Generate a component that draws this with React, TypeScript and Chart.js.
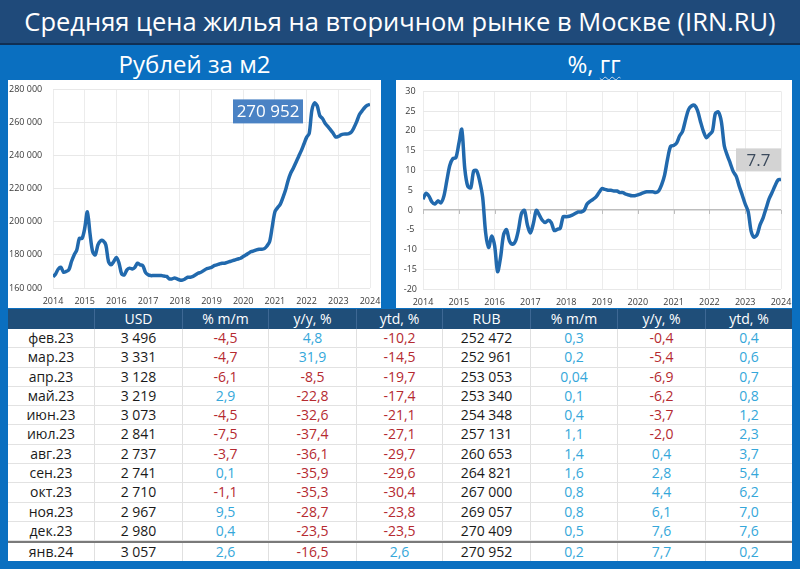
import React, { useEffect, useRef } from "react";
import { Chart, registerables } from "chart.js";

Chart.register(...registerables);

// ---------- Chart data (monthly, Jan..Dec) ----------
const years = [2014, 2015, 2016, 2017, 2018, 2019, 2020, 2021, 2022, 2023, 2024];

const price2014 = [166800, 168500, 171500, 172500, 169500, 170000, 171000, 176000, 180000, 183000, 190000, 190000];
const price2015 = [196000, 206000, 193000, 182000, 180000, 186000, 188500, 188500, 186000, 176000, 174000, 176000];
const price2016 = [178500, 175000, 168500, 168000, 171000, 172000, 171500, 172500, 175000, 174000, 173500, 169500];
const price2017 = [168000, 167500, 167500, 167500, 167500, 167500, 167200, 167000, 165500, 165500, 166000, 165500];
const price2018 = [164800, 164800, 165500, 166500, 166500, 167000, 168000, 169000, 169500, 170500, 171500, 172000];
const price2019 = [172500, 173500, 174000, 174500, 175000, 175000, 175500, 176000, 176500, 177000, 177500, 178000];
const price2020 = [179000, 179900, 181000, 182000, 182400, 183000, 183400, 183400, 183800, 185400, 188000, 197000];
const price2021 = [206000, 208500, 210500, 214500, 219000, 225000, 229500, 232500, 236000, 239500, 243000, 247000];
const price2022 = [251000, 253500, 267400, 271800, 270100, 264100, 262400, 259600, 257600, 255700, 253600, 251300];
const price2023 = [251600, 252472, 252961, 253053, 253340, 254348, 257131, 260653, 264821, 267000, 269057, 270409];
const price2024 = [270952];

const yoy2014 = [2.7, 4.2, 3.5, 2.0, 1.5, 2.3, 1.8, 3.5, 7.5, 11.3, 13.0, 13.2];
const yoy2015 = [16.7, 20.4, 10.5, 6.0, 5.6, 9.9, 9.9, 7.3, 3.2, -5.8, -9.5, -6.6];
const yoy2016 = [-9.0, -15.6, -12.0, -6.3, -5.0, -7.9, -8.7, -7.9, -5.0, -0.9, -0.1, -3.8];
const yoy2017 = [-5.8, -3.4, -0.1, -1.3, -2.6, -3.2, -2.6, -3.2, -5.2, -4.9, -4.6, -1.7];
const yoy2018 = [-1.7, -1.6, -1.3, -0.9, -0.5, -0.5, -0.1, 1.5, 2.2, 2.7, 3.3, 4.4];
const yoy2019 = [5.4, 5.2, 5.0, 5.0, 4.8, 4.8, 4.4, 4.4, 4.0, 3.8, 3.6, 3.6];
const yoy2020 = [3.8, 4.1, 4.4, 4.6, 4.6, 4.6, 4.4, 4.8, 6.4, 8.9, 13.0, 16.1];
const yoy2021 = [16.3, 16.9, 18.7, 19.9, 22.8, 25.4, 26.3, 26.5, 25.2, 22.4, 19.9, 18.3];
const yoy2022 = [19.1, 19.9, 24.4, 24.8, 22.4, 16.2, 13.8, 11.8, 9.7, 8.5, 6.0, 3.8];
const yoy2023 = [1.5, -0.4, -5.4, -6.9, -6.2, -3.7, -2.0, 0.4, 2.8, 4.4, 6.1, 7.6];
const yoy2024 = [7.7];

const priceByYear = [price2014, price2015, price2016, price2017, price2018, price2019, price2020, price2021, price2022, price2023, price2024];
const yoyByYear = [yoy2014, yoy2015, yoy2016, yoy2017, yoy2018, yoy2019, yoy2020, yoy2021, yoy2022, yoy2023, yoy2024];

// ---------- Table data ----------
const headers = ["", "USD", "% m/m", "y/y, %", "ytd, %", "RUB", "% m/m", "y/y, %", "ytd, %"];
const months = ["фев.23", "мар.23", "апр.23", "май.23", "июн.23", "июл.23", "авг.23", "сен.23", "окт.23", "ноя.23", "дек.23", "янв.24"];
const usd = ["3 496", "3 331", "3 128", "3 219", "3 073", "2 841", "2 737", "2 741", "2 710", "2 967", "2 980", "3 057"];
const usdMm = ["-4,5", "-4,7", "-6,1", "2,9", "-4,5", "-7,5", "-3,7", "0,1", "-1,1", "9,5", "0,4", "2,6"];
const usdYy = ["4,8", "31,9", "-8,5", "-22,8", "-32,6", "-37,4", "-36,1", "-35,9", "-35,3", "-28,7", "-23,5", "-16,5"];
const usdYtd = ["-10,2", "-14,5", "-19,7", "-17,4", "-21,1", "-27,1", "-29,7", "-29,6", "-30,4", "-23,8", "-23,5", "2,6"];
const rub = ["252 472", "252 961", "253 053", "253 340", "254 348", "257 131", "260 653", "264 821", "267 000", "269 057", "270 409", "270 952"];
const rubMm = ["0,3", "0,2", "0,04", "0,1", "0,4", "1,1", "1,4", "1,6", "0,8", "0,8", "0,5", "0,2"];
const rubYy = ["-0,4", "-5,4", "-6,9", "-6,2", "-3,7", "-2,0", "0,4", "2,8", "4,4", "6,1", "7,6", "7,7"];
const rubYtd = ["0,4", "0,6", "0,7", "0,8", "1,2", "2,3", "3,7", "5,4", "6,2", "7,0", "7,6", "0,2"];

const colWidths = [87, 88, 86, 88, 86, 88, 87, 88, 86];

const FONT = '"Open Sans", "Noto Sans", sans-serif';
const LINE = "#2169ad";
const RED = "#b52a30";
const CYAN = "#35a7da";

function toPoints(byYear: number[][]) {
  const pts: { x: number; y: number }[] = [];
  byYear.forEach((arr, yi) => arr.forEach((v, i) => pts.push({ x: years[yi] + i / 12, y: v })));
  return pts;
}

function spaced(n: number) {
  return Math.round(n).toString().replace(/\B(?=(\d{3})+(?!\d))/g, " ");
}

function valueLabel(o: { w: number; h: number; dxRight: number; dyTop: number; bg: string; fg: string; size: number; fmt: (v: number) => string }) {
  return {
    id: "valueLabel",
    afterDatasetsDraw(chart: any) {
      const { ctx, chartArea } = chart;
      const data = chart.data.datasets[0].data;
      const last = data[data.length - 1].y;
      const x = chartArea.right - o.dxRight - o.w;
      const y = chartArea.top + o.dyTop;
      ctx.save();
      ctx.fillStyle = o.bg;
      ctx.fillRect(x, y, o.w, o.h);
      ctx.fillStyle = o.fg;
      ctx.font = `${o.size}px ${FONT}`;
      ctx.textAlign = "center";
      ctx.textBaseline = "middle";
      ctx.fillText(o.fmt(last), x + o.w / 2, y + o.h / 2 + 1);
      ctx.restore();
    },
  };
}

const zeroTicks = {
  id: "zeroTicks",
  beforeDatasetsDraw(chart: any) {
    const { ctx } = chart;
    const xs = chart.scales.x;
    const ys = chart.scales.y;
    const y0 = ys.getPixelForValue(0);
    ctx.save();
    ctx.strokeStyle = "#bdbdbd";
    ctx.lineWidth = 1;
    ctx.beginPath();
    years.forEach((yr) => {
      const px = Math.round(xs.getPixelForValue(yr)) + 0.5;
      ctx.moveTo(px, y0);
      ctx.lineTo(px, y0 + 4);
    });
    ctx.stroke();
    ctx.restore();
  },
};

function LineChart(props: {
  width: number;
  height: number;
  byYear: number[][];
  yMin: number;
  yMax: number;
  yStep: number;
  yFmt: (v: number) => string;
  yWidth: number;
  padLeft: number;
  padRight: number;
  crossAlign: "far" | "center";
  yPad: number;
  xHeight: number;
  zeroLine: boolean;
  label: any;
}) {
  const ref = useRef<HTMLCanvasElement>(null);
  useEffect(() => {
    if (!ref.current) return;
    const plugins: any[] = [props.label];
    if (props.zeroLine) plugins.push(zeroTicks);
    const chart = new Chart(ref.current, {
      type: "line",
      data: {
        datasets: [
          {
            data: toPoints(props.byYear),
            borderColor: LINE,
            borderWidth: 3.5,
            pointRadius: 0,
            tension: 0.3,
            fill: false,
          },
        ],
      },
      options: {
        responsive: false,
        animation: false,
        parsing: false as any,
        layout: { padding: { left: props.padLeft, right: props.padRight, top: 7, bottom: 0 } },
        plugins: { legend: { display: false }, tooltip: { enabled: false } },
        scales: {
          x: {
            type: "linear",
            min: 2014,
            max: 2024,
            afterFit: (s: any) => {
              s.height = props.xHeight;
              s.paddingRight = 0;
              s.paddingLeft = 0;
            },
            afterBuildTicks: (s: any) => {
              s.ticks = years.map((v) => ({ value: v }));
            },
            ticks: {
              autoSkip: false,
              maxRotation: 0,
              padding: 8,
              color: "#3a3a3a",
              font: { family: FONT, size: 9 },
              callback: (v: any) => String(v),
            },
            grid: { color: "#ececec", drawTicks: false },
            border: { display: false },
          },
          y: {
            min: props.yMin,
            max: props.yMax,
            afterFit: (s: any) => {
              s.width = props.yWidth;
            },
            ticks: {
              stepSize: props.yStep,
              padding: props.yPad,
              crossAlign: props.crossAlign,
              color: "#3a3a3a",
              font: { family: FONT, size: 9 },
              callback: (v: any) => props.yFmt(Number(v)),
            },
            grid: {
              drawTicks: false,
              color: (c: any) => (props.zeroLine && c.tick && c.tick.value === 0 ? "#bdbdbd" : "#e8e8e8"),
              lineWidth: (c: any) => (props.zeroLine && c.tick && c.tick.value === 0 ? 1.5 : 1),
            },
            border: { display: false },
          },
        },
      },
      plugins,
    });
    return () => chart.destroy();
  }, []);
  return <canvas ref={ref} width={props.width} height={props.height} style={{ display: "block" }} />;
}

function cellColor(col: number, text: string) {
  if (col === 0 || col === 1 || col === 5) return "#1a1a1a";
  return text.trim().startsWith("-") ? RED : CYAN;
}

function Table() {
  const rows = months.map((m, i) => [m, usd[i], usdMm[i], usdYy[i], usdYtd[i], rub[i], rubMm[i], rubYy[i], rubYtd[i]]);
  return (
    <div style={{ position: "absolute", left: 8, top: 309, width: 784, background: "#fff", fontFamily: FONT, fontSize: 14 }}>
      <div style={{ display: "flex", height: 20, background: "#1f4e79", color: "#fff" }}>
        {headers.map((h, c) => (
          <div
            key={c}
            style={{
              width: colWidths[c],
              boxSizing: "border-box",
              textAlign: "center",
              lineHeight: "20px",
              borderRight: c < headers.length - 1 ? "1px solid #3e6894" : "none",
            }}
          >
            {h}
          </div>
        ))}
      </div>
      {rows.map((r, ri) => {
        const last = ri === rows.length - 1;
        const h = last ? 19.7 : 19.3;
        return (
          <div
            key={ri}
            style={{
              display: "flex",
              height: h,
              boxSizing: "border-box",
              borderTop: last ? "2px solid #7a7a7a" : "none",
              borderBottom: last ? "none" : "1px solid #e2e2e2",
            }}
          >
            {r.map((t, c) => (
              <div
                key={c}
                style={{
                  width: colWidths[c],
                  boxSizing: "border-box",
                  textAlign: "center",
                  lineHeight: (last ? 17.7 : 18.3) + "px",
                  color: cellColor(c, t),
                  borderRight: c < r.length - 1 ? "1px solid #e0e0e0" : "none",
                }}
              >
                {t}
              </div>
            ))}
          </div>
        );
      })}
    </div>
  );
}

export default function App() {
  useEffect(() => {
    document.body.style.margin = "0";
  }, []);
  return (
    <div
      style={{
        position: "fixed",
        left: 0,
        top: 0,
        width: 800,
        height: 569,
        overflow: "hidden",
        background: "#0a6fc0",
        fontFamily: FONT,
      }}
    >
      <div
        style={{
          position: "absolute",
          left: 0,
          top: 0,
          width: 800,
          height: 43,
          background: "#1f4a7a",
          borderBottom: "2px solid #112f52",
          color: "#fff",
          fontSize: 25.5,
          lineHeight: "42px",
          textAlign: "center",
          whiteSpace: "nowrap",
        }}
      >
        Средняя цена жилья на вторичном рынке в Москве (IRN.RU)
      </div>
      <div style={{ position: "absolute", left: 8, width: 373, top: 48, textAlign: "center", color: "#fff", fontSize: 24, lineHeight: "32px" }}>
        Рублей за м2
      </div>
      <div style={{ position: "absolute", left: 396, width: 396, top: 48, textAlign: "center", color: "#fff", fontSize: 24, lineHeight: "32px" }}>
        %,{" "}
        <span style={{ textDecoration: "underline wavy #c8d6e8", textDecorationThickness: 1, textUnderlineOffset: 3 }}>гг</span>
      </div>
      <div style={{ position: "absolute", left: 8, top: 80, width: 373, height: 228, background: "#fff" }}>
        <LineChart
          width={373}
          height={228}
          byYear={priceByYear}
          yMin={160000}
          yMax={280000}
          yStep={20000}
          yFmt={spaced}
          yWidth={44}
          padLeft={1}
          padRight={11}
          crossAlign="far"
          yPad={4}
          xHeight={20}
          zeroLine={false}
          label={valueLabel({ w: 70, h: 24, dxRight: 67, dyTop: 10, bg: "#4a82c4", fg: "#ffffff", size: 17, fmt: spaced })}
        />
      </div>
      <div style={{ position: "absolute", left: 396, top: 80, width: 396, height: 228, background: "#fff" }}>
        <LineChart
          width={396}
          height={228}
          byYear={yoyByYear}
          yMin={-20}
          yMax={30}
          yStep={5}
          yFmt={(v) => String(v)}
          yWidth={27}
          padLeft={0}
          padRight={11}
          crossAlign="center"
          yPad={6}
          xHeight={19}
          zeroLine={true}
          label={valueLabel({ w: 45, h: 23, dxRight: 0, dyTop: 57, bg: "#d3d3d3", fg: "#3b4a5c", size: 17, fmt: (v) => v.toFixed(1) })}
        />
      </div>
      <Table />
    </div>
  );
}
